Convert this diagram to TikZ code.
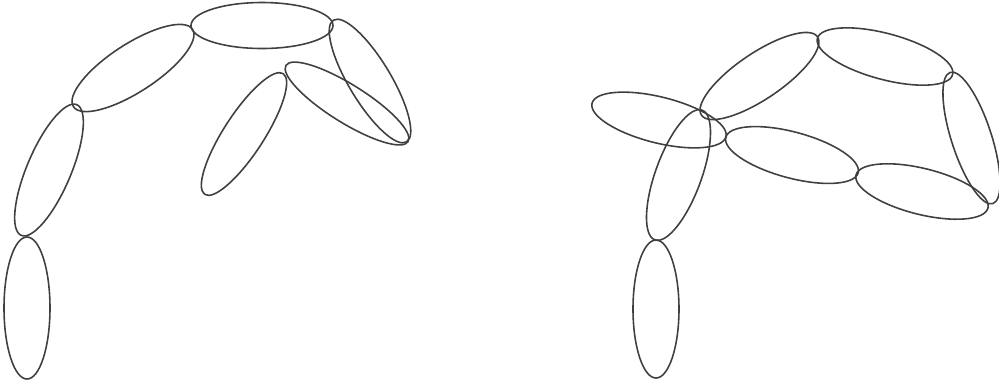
\documentclass[tikz,border=0pt]{standalone}
\usetikzlibrary{positioning}
% one link of a chain: centre x, centre y, tilt, half length, half width
\newcommand{\chainlink}[5]{%
  \draw[link,rotate around={#3:(#1,#2)}] (#1,#2) ellipse [x radius=#4,y radius=#5];}

\begin{document}
\begin{tikzpicture}[x=0.01cm,y=-0.01cm,
  link/.style={draw=black!75,line width=0.45pt}]
\useasboundingbox (0,0) rectangle (999,387);
% left chain: open arc of links, loose link below it
\foreach \cx/\cy/\tilt/\ra/\rb in {27/308/90/71/23, 49/170/67/71/22,
    133/68/33/71/24, 262/25.5/0/71/23, 370/81/-59/71/21,
    347/103.5/-32/72/19, 244/134/57/72/20}
  {\chainlink{\cx}{\cy}{\tilt}{\ra}{\rb}}
% right chain: links closed into a loop
\foreach \cx/\cy/\tilt/\ra/\rb in {656/309/90/69/23, 678.5/175/70/69/23,
    659/120/-14/69/23, 759.5/76/34/70/23, 885/56.5/-15/70/23,
    971.5/138/-72/69/20, 792/155/-15/68.5/23, 922/191.5/-14/68/23}
  {\chainlink{\cx}{\cy}{\tilt}{\ra}{\rb}}
\end{tikzpicture}
\end{document}
